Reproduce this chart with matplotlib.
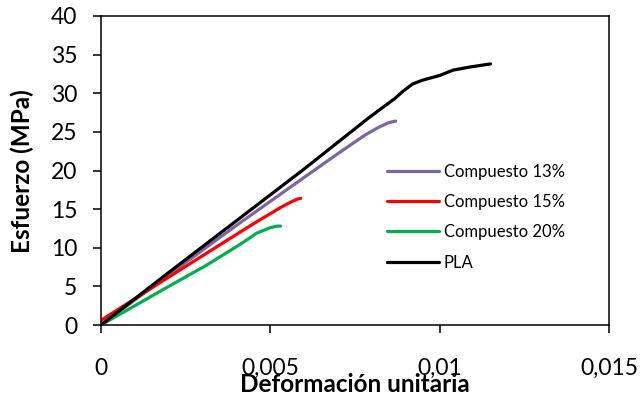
import matplotlib
matplotlib.use("Agg")
import matplotlib.pyplot as plt

# Data
pla_x = [0.0, 0.0020, 0.0040, 0.0060, 0.0079, 0.0087, 0.0089, 0.0092, 0.0095, 0.0100, 0.0104, 0.0109, 0.0112, 0.0115]
pla_y = [0.0, 6.8, 13.5, 20.2, 26.8, 29.4, 30.2, 31.2, 31.7, 32.3, 33.0, 33.4, 33.6, 33.8]

c13_x = [0.0, 0.0020, 0.0040, 0.0059, 0.0070, 0.0078, 0.0082, 0.0085, 0.0087]
c13_y = [0.0, 6.5, 12.9, 18.8, 22.2, 24.6, 25.6, 26.2, 26.4]

c15_x = [0.0, 0.0010, 0.0020, 0.0033, 0.0045, 0.0053, 0.0056, 0.0058, 0.0059]
c15_y = [0.6, 3.4, 6.2, 9.8, 13.1, 15.2, 15.9, 16.3, 16.4]

c20_x = [0.0, 0.0010, 0.0020, 0.0031, 0.0038, 0.0042, 0.0046, 0.0050, 0.0052, 0.0053]
c20_y = [0.0, 2.5, 5.0, 7.7, 9.6, 10.7, 11.9, 12.6, 12.8, 12.8]

series_labels = ["Compuesto 13%", "Compuesto 15%", "Compuesto 20%", "PLA"]
series_colors = ["#8064A2", "#FF0000", "#00B050", "#000000"]

x_ticks = [0, 0.005, 0.01, 0.015]
x_tick_labels = ["0", "0,005", "0,01", "0,015"]
y_ticks = [0, 5, 10, 15, 20, 25, 30, 35, 40]

plt.rcParams['font.family'] = ['Lato', 'DejaVu Sans']

fig = plt.figure(figsize=(6.4, 3.98), dpi=100)
ax = fig.add_axes([101/640, 1-325/398, (609-101)/640, (325-16)/398])

datasets = [(c13_x, c13_y), (c15_x, c15_y), (c20_x, c20_y), (pla_x, pla_y)]
for (xs, ys), lab, col in zip(datasets, series_labels, series_colors):
    ax.plot(xs, ys, color=col, lw=2.3, label=lab, solid_capstyle='round', solid_joinstyle='round')

ax.set_xlim(0, 0.015)
ax.set_ylim(0, 40)
ax.set_xticks(x_ticks)
ax.set_xticklabels(x_tick_labels)
ax.set_yticks(y_ticks)
ax.tick_params(axis='both', labelsize=16.5, direction='out', length=6, width=1.1, color='black')
ax.tick_params(axis='x', pad=17.5)
ax.tick_params(axis='y', pad=11)
for s in ax.spines.values():
    s.set_linewidth(1.1)

ax.set_xlabel("Deformación unitaria", fontsize=17.5, fontweight='bold')
ax.xaxis.set_label_coords((355-101)/508, -(384-325)/309, transform=ax.transAxes)
ax.xaxis.label.set_va('center')
ax.set_ylabel("Esfuerzo (MPa)", fontsize=17.5, fontweight='bold')
ax.yaxis.set_label_coords(-(101-22)/508, (325-171)/309)
ax.yaxis.label.set_va('center')

leg = ax.legend(loc='upper left', bbox_to_anchor=(387/640, 1-164/398), bbox_transform=fig.transFigure,
                frameon=False, fontsize=12, handlelength=3.1, handletextpad=0.3,
                labelspacing=0.85, borderpad=0, borderaxespad=0)

fig.savefig("out.png", dpi=100)
